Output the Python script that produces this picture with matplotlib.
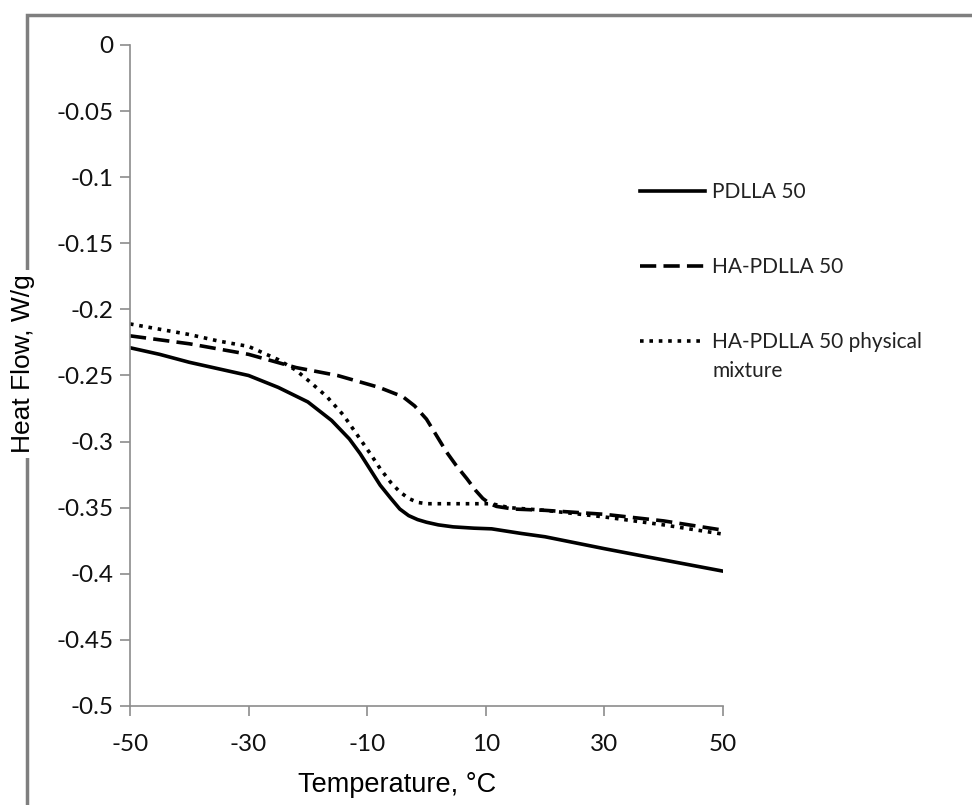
import matplotlib
matplotlib.use("Agg")
import matplotlib.pyplot as plt
from matplotlib.patches import Rectangle

# Values
t_pdlla = [-50, -45, -40, -35, -30, -25, -20, -16, -13, -11.2, -9.5, -7.8, -6, -4.5, -3, -1.5,
           0, 2, 4.5, 8, 11, 16, 20, 30, 37, 50]
hf_pdlla = [-0.229, -0.234, -0.240, -0.245, -0.250, -0.259, -0.270, -0.284, -0.298, -0.309,
            -0.321, -0.333, -0.343, -0.351, -0.356, -0.359, -0.361, -0.363, -0.3645, -0.3655,
            -0.366, -0.3695, -0.372, -0.381, -0.387, -0.398]

t_ha = [-50, -40, -30, -22, -15, -8, -4, -2, 0, 1.5, 3.4, 5, 6.8, 8.3, 9.5, 10.7, 11.8, 14.6,
        20, 30, 40, 50]
hf_ha = [-0.220, -0.226, -0.234, -0.244, -0.250, -0.259, -0.266, -0.273, -0.283, -0.294,
         -0.308, -0.318, -0.328, -0.337, -0.343, -0.347, -0.349, -0.351, -0.352, -0.355,
         -0.360, -0.367]

t_mix = [-50, -45, -40, -35, -30, -25, -22, -19.6, -16.8, -14, -11.2, -9.5, -7.8, -6, -4.5,
         -3, -1.5, 0, 5, 11, 14, 20, 30, 40, 50]
hf_mix = [-0.211, -0.215, -0.219, -0.224, -0.228, -0.238, -0.246, -0.255, -0.266, -0.280,
          -0.298, -0.309, -0.3205, -0.331, -0.338, -0.343, -0.346, -0.347, -0.347, -0.347,
          -0.350, -0.352, -0.357, -0.363, -0.370]

labels = ["PDLLA 50", "HA-PDLLA 50", "HA-PDLLA 50 physical"]
label_wrap = "mixture"
x_ticks = [-50, -30, -10, 10, 30, 50]
y_ticks = [0, -0.05, -0.1, -0.15, -0.2, -0.25, -0.3, -0.35, -0.4, -0.45, -0.5]
y_ticklabels = ["0", "-0.05", "-0.1", "-0.15", "-0.2", "-0.25", "-0.3", "-0.35", "-0.4", "-0.45", "-0.5"]

plt.rcParams["axes.unicode_minus"] = False
tick_font = "Lato"
label_font = "Liberation Sans"
grey = "#8c8c8c"

fig = plt.figure(figsize=(9.72, 8.05), dpi=100)

# outer grey frame (only top and left edges visible)
fig.patches.append(Rectangle((0.0278, -0.05), 1.1, 0.9814 + 0.05, transform=fig.transFigure,
                             fill=False, edgecolor="#7f7f7f", linewidth=2.5, zorder=0))

ax = fig.add_axes([0.1337, 0.1230, 0.7438 - 0.1337, 0.9441 - 0.1230])
ax.patch.set_alpha(0)

ax.plot(t_pdlla, hf_pdlla, color="black", lw=2.6, label=labels[0])
ax.plot(t_ha, hf_ha, color="black", lw=2.6, linestyle=(0, (4.5, 2)), label=labels[1])
ax.plot(t_mix, hf_mix, color="black", lw=2.6, linestyle=(0, (1, 1.6)), label=labels[2])

ax.set_xlim(-50, 50)
ax.set_ylim(-0.5, 0)
ax.set_xticks(x_ticks)
ax.set_yticks(y_ticks)
ax.set_yticklabels(y_ticklabels)

for s in ["top", "right"]:
    ax.spines[s].set_visible(False)
for s in ["left", "bottom"]:
    ax.spines[s].set_color(grey)
    ax.spines[s].set_linewidth(1.2)

ax.tick_params(axis="both", direction="out", length=7, width=1.2, color=grey,
               labelsize=17.5, labelcolor="#111111")
ax.tick_params(axis="y", pad=5)
ax.tick_params(axis="x", pad=13)
for lab in ax.get_xticklabels() + ax.get_yticklabels():
    lab.set_fontfamily(tick_font)

fig.text(0.0237, 0.5478, "Heat Flow, W/g", rotation=90, ha="center", va="center",
         fontsize=19, family=label_font,
         bbox=dict(facecolor="white", edgecolor="none", pad=3))
fig.text(0.408, 0.025, "Temperature, \u00b0C", ha="center", va="center",
         fontsize=19.5, family=label_font)

leg = ax.legend(loc="upper left", bbox_to_anchor=(0.6584, 0.774), bbox_transform=fig.transFigure,
                frameon=False, handlelength=3.1, handletextpad=0.35, borderpad=0,
                borderaxespad=0, labelspacing=2.64, prop={"family": tick_font, "size": 15})
for t in leg.get_texts():
    t.set_color("#222222")
# second line of the last legend label
fig.text(712 / 972, 1 - 371 / 805, label_wrap, ha="left", va="center",
         fontsize=15, family=tick_font, color="#222222")

fig.savefig("out.png", dpi=100)
